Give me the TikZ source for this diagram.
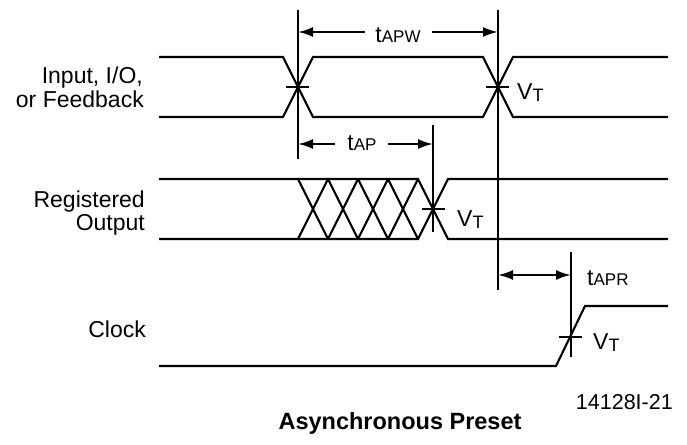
\documentclass[tikz,border=0pt]{standalone}
\usepackage{fontspec}
\setmainfont{Liberation Sans}
\usetikzlibrary{arrows.meta}
\tikzset{
  wave/.style={line width=2.1pt, line join=miter},
  guide/.style={line width=2.1pt},
  vtick/.style={line width=2.1pt},
  dimarrow/.style={line width=2.1pt, -{Latex[length=15pt,width=10pt]}},
  dimboth/.style={line width=2.1pt, {Latex[length=15pt,width=10pt]}-{Latex[length=15pt,width=10pt]}},
  lbl/.style={inner sep=0pt, font=\fontsize{23}{24}\selectfont},
  small/.style={inner sep=0pt, font=\fontsize{21.5}{24}\selectfont},
  title/.style={inner sep=0pt, font=\bfseries\fontsize{23.5}{24}\selectfont},
}
\newcommand{\subtxt}[1]{{\fontsize{17}{18}\selectfont #1}}
\newcommand{\subvt}[1]{\raisebox{-2pt}{\fontsize{18}{18}\selectfont #1}}
\begin{document}
\begin{tikzpicture}[x=1pt,y=-1pt]
\useasboundingbox (0,0) rectangle (687,444);
% labels
\node[lbl, anchor=base east] (l1a) at (143,83) {Input, I/O,};
\node[lbl, anchor=base east] (l1b) at (144,107) {or Feedback};
\node[lbl, anchor=base east] (l2a) at (145,207) {Registered};
\node[lbl, anchor=base east] (l2b) at (145,230) {Output};
\node[lbl, anchor=base east] (l3) at (146,337) {Clock};
% input waveform
\draw[wave] (159,57) -- (283,57) -- (313,117) -- (483,117) -- (513,57) -- (668,57);
\draw[wave] (159,117) -- (283,117) -- (313,57) -- (483,57) -- (513,117) -- (668,117);
% registered output
\draw[wave] (159,179) -- (418,179) -- (448,239) -- (668,239);
\draw[wave] (159,239) -- (418,239) -- (448,179) -- (668,179);
\foreach \x in {298,328,358,388}{
  \draw[wave] (\x,179) -- (\x+30,239);
  \draw[wave] (\x,239) -- (\x+30,179);
}
% clock
\draw[wave] (159,366) -- (556,366) -- (585,306) -- (668,306);
% vertical guides
\coordinate (v1t) at (298,10); \coordinate (v1b) at (298,159);
\coordinate (v2t) at (498,10); \coordinate (v2b) at (498,290);
\coordinate (v3t) at (433,125); \coordinate (v3b) at (433,232);
\coordinate (v4t) at (571,252); \coordinate (v4b) at (571,357);
\draw[guide] (v1t) -- (v1b);
\draw[guide] (v2t) -- (v2b);
\draw[guide] (v3t) -- (v3b);
\draw[guide] (v4t) -- (v4b);
% VT ticks
\draw[vtick] (286,87) -- (309,87);
\draw[vtick] (486,87) -- (509,87);
\draw[vtick] (422,209) -- (445,209);
\draw[vtick] (559,337) -- (582,337);
% tAPW
\node[lbl, anchor=base] (tapw) at (398,43) {t\subtxt{APW}};
\coordinate (apwL) at (365,32); \coordinate (apwR) at (432,32);
\draw[dimarrow] (apwL) -- (v1t |- apwL);
\draw[dimarrow] (apwR) -- (v2t |- apwR);
% tAP
\node[lbl, anchor=base] (tap) at (362,150) {t\subtxt{AP}};
\coordinate (apL) at (335,144); \coordinate (apR) at (388,144);
\draw[dimarrow] (apL) -- (v1t |- apL);
\draw[dimarrow] (apR) -- (v3t |- apR);
% tAPR
\node[lbl, anchor=base west] (tapr) at (587,285) {t\subtxt{APR}};
\coordinate (aprL) at (498,275); \coordinate (aprR) at (571,275);
\draw[dimboth] (aprL) -- (aprR);
% VT labels
\node[lbl, anchor=base west] (vt1) at (517,99) {V\subvt{T}};
\node[lbl, anchor=base west] (vt2) at (457,226) {V\subvt{T}};
\node[lbl, anchor=base west] (vt3) at (593,349) {V\subvt{T}};
% figure id and title
\node[small, anchor=base east] (fid) at (673,409) {14128I-21};
\node[title, anchor=base] (ttl) at (400,429) {Asynchronous Preset};
\end{tikzpicture}
\end{document}
